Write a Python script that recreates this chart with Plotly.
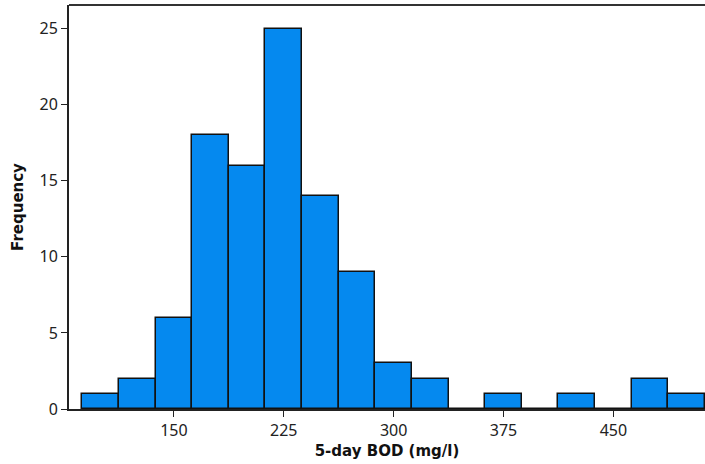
import plotly.graph_objects as go

bin_centers = [100, 125, 150, 175, 200, 225, 250, 275, 300, 325, 350, 375, 400, 425, 450, 475, 500]
counts = [1, 2, 6, 18, 16, 25, 14, 9, 3, 2, 0, 1, 0, 1, 0, 2, 1]
x_ticks = [150, 225, 300, 375, 450]
y_ticks = [0, 5, 10, 15, 20, 25]

fig = go.Figure(go.Bar(
    x=bin_centers, y=counts, width=25,
    marker=dict(color="#0589EF", line=dict(color="#111111", width=1.5)),
))
font = "Noto Sans"
title_font = dict(family="DejaVu Sans", size=15, color="#111111")
fig.update_layout(
    width=705, height=464,
    margin=dict(l=69, r=0, t=5, b=55),
    plot_bgcolor="white", paper_bgcolor="white",
    showlegend=False, bargap=0,
    font=dict(family=font, size=16, color="#222222"),
)
fig.update_xaxes(
    range=[78.4, 512.5], tickvals=x_ticks, ticks="outside", ticklen=6, tickcolor="#222222",
    showline=True, linecolor="#222222", linewidth=2, showgrid=False, zeroline=False,
    automargin=False,
    title=dict(text="<b>5-day BOD (mg/l)</b>", font=title_font, standoff=5),
)
fig.update_yaxes(
    range=[0, 26.55], tickvals=y_ticks, ticks="outside", ticklen=6, tickcolor="#222222",
    showline=True, linecolor="#222222", linewidth=2, showgrid=False, zeroline=False,
    automargin=False,
    title=dict(text="<b>Frequency</b>", font=title_font, standoff=12),
)
fig.add_shape(type="line", xref="paper", yref="paper", x0=0, x1=1, y0=1, y1=1,
              line=dict(color="#333333", width=2))
fig.write_html("out.html", config={"displayModeBar": False},
               post_script="document.body.style.margin='0';document.body.style.overflow='hidden';")
